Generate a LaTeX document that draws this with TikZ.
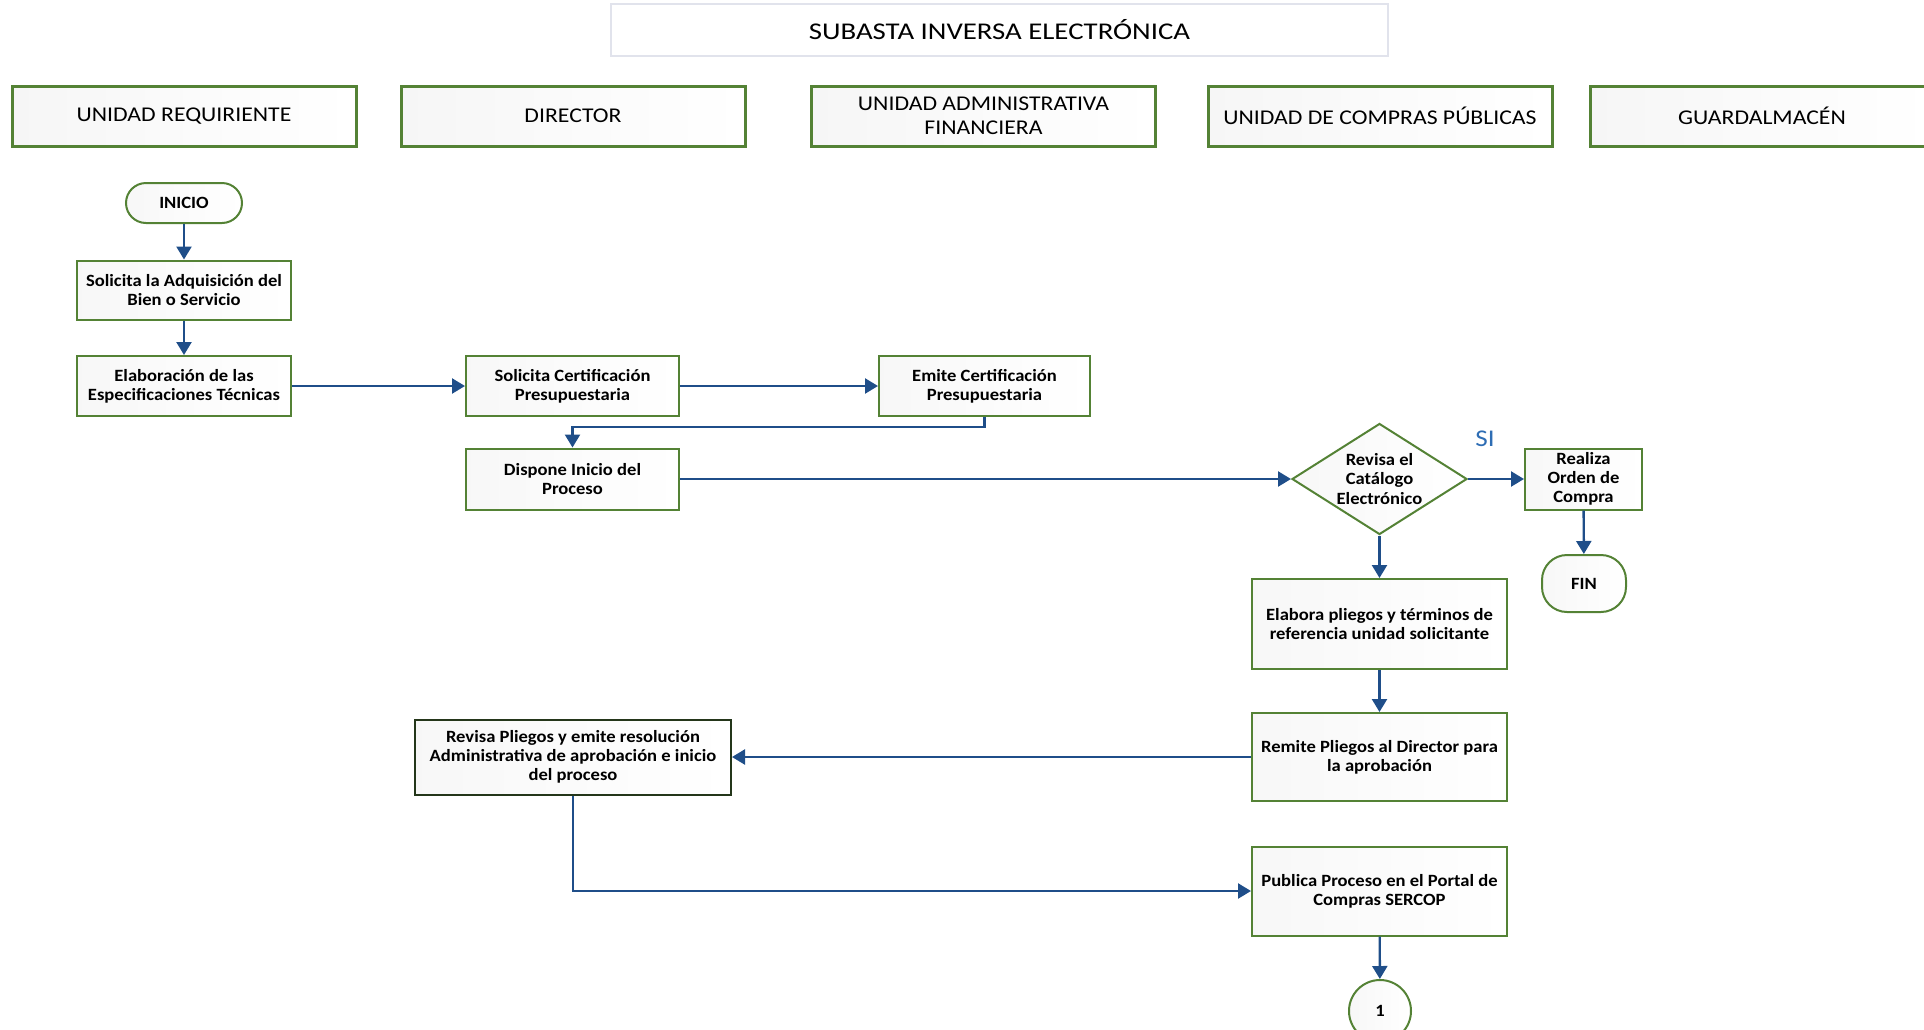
\documentclass[tikz,border=0pt]{standalone}
\usepackage{fontspec}
\setmainfont{Carlito}
\newfontfamily\titlefont[FakeStretch=1.2]{Carlito}
\newfontfamily\lanefont[FakeStretch=1.13]{Carlito}
\newfontfamily\stepfont[FakeStretch=1.08]{Carlito}
\usetikzlibrary{arrows.meta,shapes.geometric}
\definecolor{boxgreen}{HTML}{548235}
\definecolor{darkframe}{HTML}{24361A}
\definecolor{flowblue}{HTML}{1F4E89}
\definecolor{siblue}{HTML}{2E6DB4}
\definecolor{titleline}{HTML}{E1E3EC}

\begin{document}
\begin{tikzpicture}[x=0.5pt,y=-0.5pt,
  lane/.style={draw=boxgreen, line width=1.5pt, left color=gray!7!white, right color=white,
    minimum width=172pt, minimum height=30pt, inner sep=0pt, align=center,
    font=\lanefont\fontsize{10.5}{12.2}\selectfont},
  stepbox/.style={draw=boxgreen, line width=1pt, left color=gray!6!white, right color=white,
    inner sep=0pt, align=center, font=\stepfont\fontsize{8.6}{9.6}\selectfont\bfseries},
  terminal/.style={stepbox, rounded corners=#1},
  decision/.style={stepbox, diamond, aspect=1.58, minimum width=87.5pt, minimum height=55.5pt},
  flow/.style={draw=flowblue, line width=1.2pt, -{Triangle[length=6.5pt,width=7.5pt]}},
]
\useasboundingbox (0,0) rectangle (1924,1029);

% title
\node[draw=titleline, line width=1pt, fill=white, minimum width=388.5pt, minimum height=26pt,
      font=\titlefont\fontsize{12}{14}\selectfont] (title) at (999.5,30) {SUBASTA INVERSA ELECTRÓNICA};

% swimlane headers
\node[lane] (hreq) at (184,116) {UNIDAD REQUIRIENTE};
\node[lane] (hdir) at (573,116) {DIRECTOR};
\node[lane] (huaf) at (983.5,116) {UNIDAD ADMINISTRATIVA\\FINANCIERA};
\node[lane] (hucp) at (1380,116) {UNIDAD DE COMPRAS PÚBLICAS};
\node[lane] (hgua) at (1762,116) {GUARDALMACÉN};

% process steps
\node[terminal=10pt, minimum width=58pt, minimum height=20pt] (inicio) at (184,203) {INICIO};
\node[stepbox, minimum width=107pt, minimum height=29.5pt] (solAdq) at (184,290) {Solicita la Adquisición del\\Bien o Servicio};
\node[stepbox, minimum width=107pt, minimum height=30pt] (elab) at (184,386) {Elaboración de las\\Especificaciones Técnicas};
\node[stepbox, minimum width=106.5pt, minimum height=30pt] (solCert) at (572.5,386) {Solicita Certificación\\Presupuestaria};
\node[stepbox, minimum width=105.5pt, minimum height=30pt] (emite) at (984.5,386) {Emite Certificación\\Presupuestaria};
\node[stepbox, minimum width=106.5pt, minimum height=30.5pt] (dispone) at (572.5,479) {Dispone Inicio del\\Proceso};
\node[decision] (catalogo) at (1379.5,479) {Revisa el\\Catálogo\\Electrónico};
\node[stepbox, minimum width=58.5pt, minimum height=30.5pt] (orden) at (1583.5,479) {Realiza\\Orden de\\Compra};
\node[terminal=12.5pt, minimum width=42pt, minimum height=28.5pt] (fin) at (1584,583.5) {FIN};
\node[stepbox, minimum width=127.5pt, minimum height=45pt] (pliegos) at (1379.5,624) {Elabora pliegos y términos de\\referencia unidad solicitante};
\node[stepbox, minimum width=127.5pt, minimum height=44pt] (remite) at (1379.5,757) {Remite Pliegos al Director para\\la aprobación};
\node[stepbox, draw=darkframe, minimum width=158pt, minimum height=37.5pt] (revisa) at (573,757) {Revisa Pliegos y emite resolución\\Administrativa de aprobación e inicio\\del proceso};
\node[stepbox, minimum width=127.5pt, minimum height=44.5pt] (publica) at (1379.5,891) {Publica Proceso en el Portal de\\Compras SERCOP};
\node[stepbox, circle, minimum size=31pt] (con1) at (1380,1011) {1};

\node[text=siblue, font=\lanefont\fontsize{12}{12}\selectfont] (si) at (1485,439) {SI};

% connectors
\coordinate (bend) at (0,427);
\draw[flow] (inicio) -- (solAdq);
\draw[flow] (solAdq) -- (elab);
\draw[flow] (elab) -- (solCert);
\draw[flow] (solCert) -- (emite);
\draw[flow] (emite.south) -- (emite.south |- bend) -- (dispone.north |- bend) -- (dispone.north);
\draw[flow] (dispone) -- (catalogo);
\draw[flow] (catalogo) -- (orden);
\draw[flow] (orden) -- (fin);
\draw[flow] (catalogo) -- (pliegos);
\draw[flow] (pliegos) -- (remite);
\draw[flow] (remite) -- (revisa);
\draw[flow] (revisa.south) |- (publica.west);
\draw[flow] (publica) -- (con1);
\end{tikzpicture}
\end{document}
